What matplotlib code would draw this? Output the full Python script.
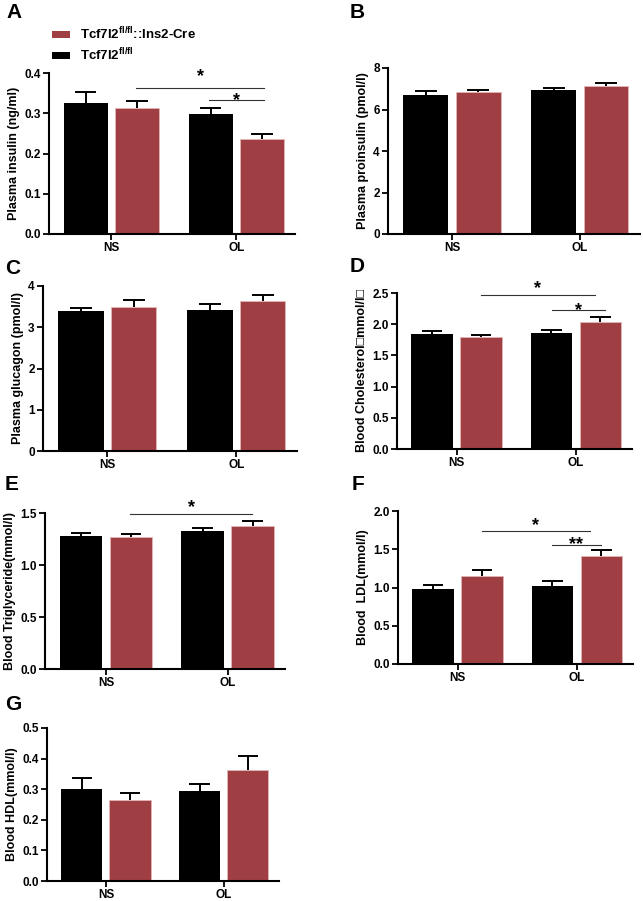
import numpy as np
import matplotlib.pyplot as plt
from matplotlib.patches import Patch

plt.rcParams['font.family'] = ['Liberation Sans', 'DejaVu Sans']
plt.rcParams['mathtext.fontset'] = 'custom'
plt.rcParams['mathtext.rm'] = 'Liberation Sans'
plt.rcParams['mathtext.bf'] = 'Liberation Sans:bold'

groups = ['NS', 'OL']
ctrl_label = 'Tcf7l2$^{\\mathbf{fl/fl}}$'
cre_label = 'Tcf7l2$^{\\mathbf{fl/fl}}$::Ins2-Cre'

# mean and mean+SEM per panel, order: NS, OL
insulin_ctrl = [0.325, 0.297]
insulin_ctrl_top = [0.352, 0.313]
insulin_cre = [0.312, 0.236]
insulin_cre_top = [0.330, 0.248]

proins_ctrl = [6.71, 6.93]
proins_ctrl_top = [6.88, 7.03]
proins_cre = [6.84, 7.15]
proins_cre_top = [6.93, 7.30]

glucagon_ctrl = [3.40, 3.43]
glucagon_ctrl_top = [3.47, 3.57]
glucagon_cre = [3.48, 3.63]
glucagon_cre_top = [3.67, 3.78]

chol_ctrl = [1.84, 1.86]
chol_ctrl_top = [1.89, 1.91]
chol_cre = [1.79, 2.04]
chol_cre_top = [1.83, 2.11]

tg_ctrl = [1.28, 1.33]
tg_ctrl_top = [1.305, 1.36]
tg_cre = [1.27, 1.375]
tg_cre_top = [1.295, 1.42]

ldl_ctrl = [0.975, 1.015]
ldl_ctrl_top = [1.03, 1.09]
ldl_cre = [1.15, 1.41]
ldl_cre_top = [1.235, 1.495]

hdl_ctrl = [0.302, 0.295]
hdl_ctrl_top = [0.335, 0.316]
hdl_cre = [0.264, 0.362]
hdl_cre_top = [0.288, 0.409]

# significance brackets: (x start, x end, line y, star y, text)
insulin_sig = [(0.2, 1.22, 0.363, 0.404, '*'), (0.78, 1.22, 0.333, 0.345, '*')]
chol_sig = [(0.2, 1.16, 2.47, 2.66, '*'), (0.8, 1.24, 2.22, 2.31, '*')]
tg_sig = [(0.2, 1.2, 1.49, 1.61, '*')]
ldl_sig = [(0.2, 1.11, 1.74, 1.88, '*'), (0.79, 1.2, 1.56, 1.64, '**')]

BLACK = '#000000'
RED = '#A03F43'
W, H = 643, 901


def px_axes(fig, left, right, top, bottom):
    return fig.add_axes([left / W, 1 - bottom / H, (right - left) / W, (bottom - top) / H])


def panel(ax, ctrl, ctrl_top, cre, cre_top, ylim, yticks, ylabel, fmt, sig=None):
    x = np.arange(len(groups))
    off = 0.205
    bw = 0.35
    ax.bar(x - off, ctrl, bw, color=BLACK, zorder=2)
    ax.bar(x + off, cre, bw, color=RED, edgecolor='#E3B5B5', linewidth=0.6, zorder=2)
    for xs, m, t in [(x - off, ctrl, ctrl_top), (x + off, cre, cre_top)]:
        ax.vlines(xs, m, t, color='black', lw=1.4, zorder=3)
        ax.hlines(t, xs - 0.085, xs + 0.085, color='black', lw=1.4, zorder=3)
    if sig:
        for x0, x1, y, ys, txt in sig:
            ax.plot([x0, x1], [y, y], color='#333333', lw=0.8, clip_on=False)
            ax.annotate(txt, ((x0 + x1) / 2, ys), xytext=(0, -4), textcoords='offset points',
                        ha='center', va='center', fontsize=13, fontweight='bold',
                        annotation_clip=False)
    ax.set_xlim(-0.5, 1.47)
    ax.set_ylim(*ylim)
    ax.set_yticks(yticks)
    ax.set_yticklabels([fmt.format(v) for v in yticks])
    ax.set_xticks(x)
    ax.set_xticklabels(groups)
    ax.set_ylabel(ylabel, fontsize=9, fontweight='bold', labelpad=3)
    for s in ['top', 'right']:
        ax.spines[s].set_visible(False)
    for s in ['left', 'bottom']:
        ax.spines[s].set_linewidth(1.5)
    ax.tick_params(direction='out', length=4, width=1.3, labelsize=8.5, pad=2)
    for lab in ax.get_xticklabels() + ax.get_yticklabels():
        lab.set_fontweight('bold')


fig = plt.figure(figsize=(W / 100, H / 100), dpi=100)

axA = px_axes(fig, 49, 295, 73, 234)
panel(axA, insulin_ctrl, insulin_ctrl_top, insulin_cre, insulin_cre_top,
      (0, 0.4), [0, 0.1, 0.2, 0.3, 0.4], 'Plasma insulin (ng/ml)', '{:.1f}', insulin_sig)

axB = px_axes(fig, 388, 640, 68, 234)
panel(axB, proins_ctrl, proins_ctrl_top, proins_cre, proins_cre_top,
      (0, 8), [0, 2, 4, 6, 8], 'Plasma proinsulin (pmol/l)', '{:.0f}')

axC = px_axes(fig, 43, 297, 286, 451)
panel(axC, glucagon_ctrl, glucagon_ctrl_top, glucagon_cre, glucagon_cre_top,
      (0, 4), [0, 1, 2, 3, 4], 'Plasma glucagon (pmol/l)', '{:.0f}')

axD = px_axes(fig, 397, 632, 293, 449)
panel(axD, chol_ctrl, chol_ctrl_top, chol_cre, chol_cre_top,
      (0, 2.5), [0, 0.5, 1.0, 1.5, 2.0, 2.5], 'Blood Cholesterol\u25a1mmol/l\u25a1', '{:.1f}', chol_sig)

axE = px_axes(fig, 45, 285, 513, 669)
panel(axE, tg_ctrl, tg_ctrl_top, tg_cre, tg_cre_top,
      (0, 1.5), [0, 0.5, 1.0, 1.5], 'Blood Triglyceride(mmol/l)', '{:.1f}', tg_sig)

axF = px_axes(fig, 398, 633, 511, 664)
panel(axF, ldl_ctrl, ldl_ctrl_top, ldl_cre, ldl_cre_top,
      (0, 2.0), [0, 0.5, 1.0, 1.5, 2.0], 'Blood  LDL(mmol/l)', '{:.1f}', ldl_sig)

axG = px_axes(fig, 47, 279, 728, 881)
panel(axG, hdl_ctrl, hdl_ctrl_top, hdl_cre, hdl_cre_top,
      (0, 0.5), [0, 0.1, 0.2, 0.3, 0.4, 0.5], 'Blood HDL(mmol/l)', '{:.1f}')

# panel letters
for letter, px, py in [('A', 6, 12), ('B', 350, 12), ('C', 5, 268), ('D', 350, 267),
                       ('E', 5, 485), ('F', 352, 485), ('G', 5, 705)]:
    fig.text(px / W, 1 - py / H, letter, fontsize=15, fontweight='bold', va='center', ha='left')

handles = [Patch(facecolor=RED), Patch(facecolor=BLACK)]
fig.legend(handles, [cre_label, ctrl_label], loc='upper left',
           bbox_to_anchor=(40 / W, 1 - 14 / H), frameon=False,
           handlelength=1.4, handleheight=0.45, handletextpad=0.75,
           labelspacing=0.3, prop={'size': 9.5, 'weight': 'bold'})

fig.savefig('out.png', dpi=100)
